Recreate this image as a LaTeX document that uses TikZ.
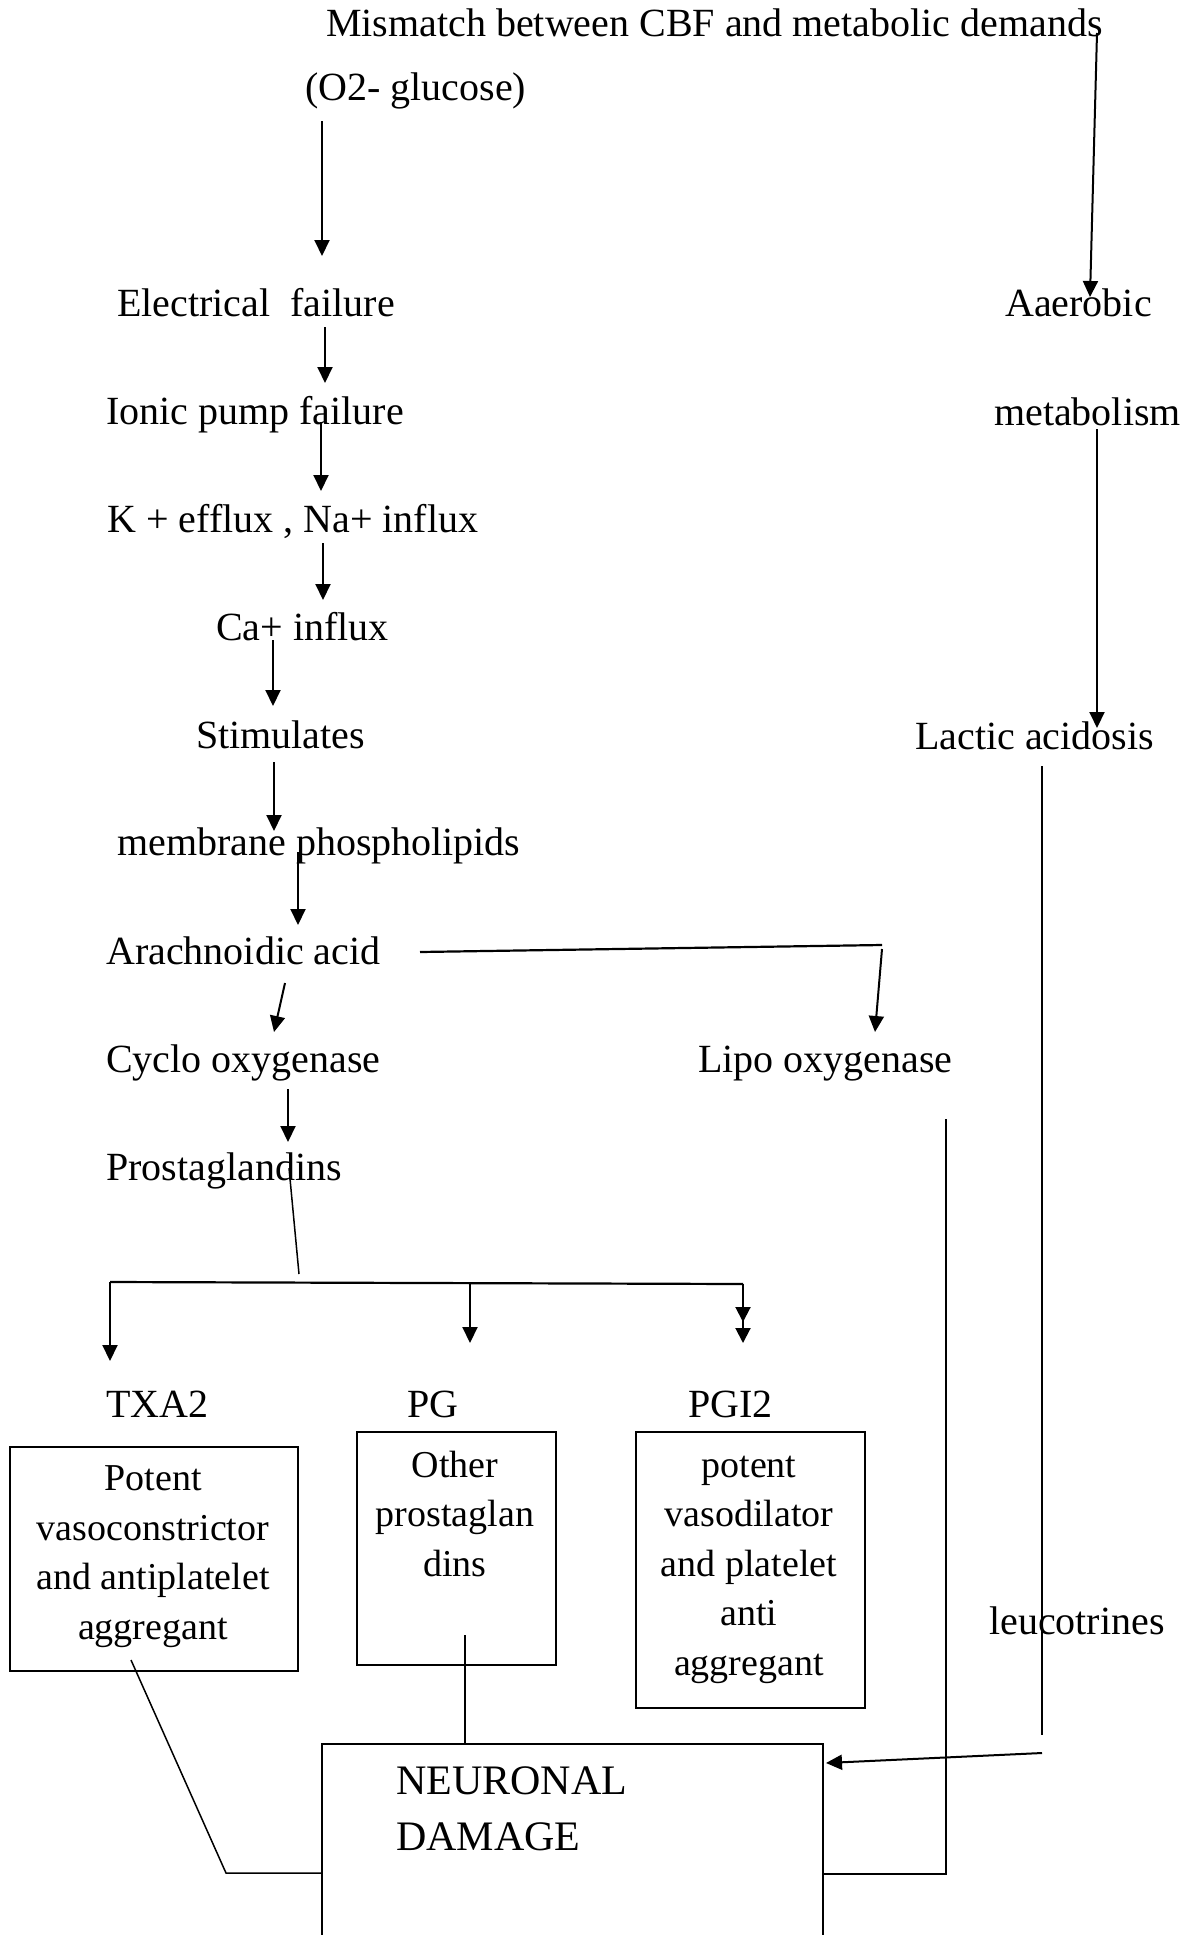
\documentclass[tikz,border=0pt]{standalone}
\usepackage{fontspec}
\setmainfont{Liberation Serif}
\usetikzlibrary{arrows.meta}
\begin{document}
\begin{tikzpicture}[x=1pt,y=-1pt,
  txt/.style={anchor=base west,inner sep=0pt,font=\fontsize{40}{48}\selectfont},
  boxtxt/.style={anchor=base,inner sep=0pt,align=center,font=\fontsize{38}{49.5}\selectfont},
  boxshape/.style={draw,line width=2pt,anchor=north west,inner sep=0pt},
  arr/.style={line width=2pt,-{Triangle[length=16pt,width=15pt]}},
  darr/.style={line width=2pt,-{Triangle[length=15pt,width=15pt,sep=6pt]Triangle[length=15pt,width=15pt]}},
  ln/.style={line width=1.5pt},
  lnthick/.style={line width=2.2pt}]
\useasboundingbox (0,0) rectangle (1189,1935);
\fill[white] (0,0) rectangle (1189,1935);
\clip (0,0) rectangle (1189,1935);

% texts
\node[txt] (mis) at (326,37) {Mismatch between CBF and metabolic demands};
\node[txt] (glu) at (305,100) {(O2- glucose)};
\node[txt] (elec) at (117,316) {Electrical\ \ failure};
\node[txt] (aer) at (1005,316) {Aaerobic};
\node[txt] (ion) at (106,424) {Ionic pump failure};
\node[txt] (met) at (994,425) {metabolism};
\node[txt] (kna) at (107,532) {K + efflux , Na+ influx};
\node[txt] (ca) at (216,640) {Ca+ influx};
\node[txt] (stim) at (196,748) {Stimulates};
\node[txt] (lac) at (915,749) {Lactic acidosis};
\node[txt] (mem) at (117,855) {membrane phospholipids};
\node[txt] (ara) at (106,964) {Arachnoidic acid};
\node[txt] (cyc) at (106,1072) {Cyclo oxygenase};
\node[txt] (lip) at (698,1072) {Lipo oxygenase};
\node[txt] (pro) at (106,1180) {Prostaglandins};
\node[txt] (txa) at (106,1417) {TXA2};
\node[txt] (pg) at (407,1417) {PG};
\node[txt] (pgi) at (688,1417) {PGI2};
\node[txt] (leu) at (989,1634) {leucotrines};

% boxes (text anchored at the baseline of the last line)
\node[boxshape,minimum width=288pt,minimum height=224pt] (b1) at (9,1446) {};
\node[boxtxt] (b1t) at (153,1639) {Potent\\vasoconstrictor\\and antiplatelet\\aggregant};
\node[boxshape,minimum width=199pt,minimum height=233pt] (b2) at (356,1431) {};
\node[boxtxt] (b2t) at (455,1576) {Other\\prostaglan\\dins};
\node[boxshape,minimum width=229pt,minimum height=276pt] (b3) at (635,1431) {};
\node[boxtxt] (b3t) at (749,1675) {potent\\vasodilator\\and platelet\\anti\\aggregant};
\node[anchor=north west,inner sep=0pt,minimum width=501pt,minimum height=230pt] (nd) at (322,1744) {};
\draw[line width=2pt] (nd.south west) -- (nd.north west) -- (nd.north east) -- (nd.south east);
\node[anchor=base west,inner sep=0pt,align=left,font=\fontsize{42}{56}\selectfont] (ndt) at (396,1850) {NEURONAL\\DAMAGE};

% coordinates
\coordinate (a1) at (322,121); \coordinate (a2) at (322,256);
\coordinate (b1s) at (1097,33); \coordinate (b1e) at (1090,297);
\coordinate (c1) at (325,327); \coordinate (c2) at (325,383);
\coordinate (d1) at (321,422); \coordinate (d2) at (321,491);
\coordinate (e1) at (323,543); \coordinate (e2) at (323,600);
\coordinate (f1) at (273,640); \coordinate (f2) at (273,706);
\coordinate (g1) at (274,762); \coordinate (g2) at (274,831);
\coordinate (h1) at (298,852); \coordinate (h2) at (298,925);
\coordinate (i1) at (285,983); \coordinate (i2) at (274,1032);
\coordinate (j1) at (420,952); \coordinate (j2) at (882,945);
\coordinate (j3) at (882,949); \coordinate (j4) at (875,1032);
\coordinate (k1) at (288,1089); \coordinate (k2) at (288,1142);
\coordinate (l1) at (289,1168); \coordinate (l2) at (299,1274);
\coordinate (lL) at (110,1282); \coordinate (lR) at (743,1284);
\coordinate (lM) at (470,1283);
\coordinate (lLe) at (110,1361); \coordinate (lMe) at (470,1343); \coordinate (lRe) at (743,1343);
\coordinate (m1) at (131,1660); \coordinate (m2) at (226,1873); \coordinate (m3) at (322,1873);
\coordinate (n1) at (465,1635);
\coordinate (o1) at (946,1119); \coordinate (o2) at (946,1874); \coordinate (o3) at (823,1874);
\coordinate (p1) at (1042,766); \coordinate (p2) at (1042,1735);
\coordinate (p3) at (1042,1753); \coordinate (p4) at (826,1763);
\coordinate (q1) at (1097,429); \coordinate (q2) at (1097,728);

% connectors
\draw[arr] (a1) -- (a2);
\draw[arr] (b1s) -- (b1e);
\draw[arr] (c1) -- (c2);
\draw[arr] (d1) -- (d2);
\draw[arr] (e1) -- (e2);
\draw[arr] (f1) -- (f2);
\draw[arr] (g1) -- (g2);
\draw[arr] (h1) -- (h2);
\draw[arr] (i1) -- (i2);
\draw[lnthick] (j1) -- (j2);
\draw[arr] (j3) -- (j4);
\draw[arr] (k1) -- (k2);
\draw[ln] (l1) -- (l2);
\draw[lnthick] (lL) -- (lR);
\draw[arr] (lL) -- (lLe);
\draw[arr] (lM) -- (lMe);
\draw[darr] (lR) -- (lRe);
\draw[ln] (m1) -- (m2) -- (m3);
\draw[ln] (n1) -- (nd.north -| n1);
\draw[ln] (o1) -- (o2) -- (o3);
\draw[ln] (p1) -- (p2);
\draw[arr] (p3) -- (p4);
\draw[arr] (q1) -- (q2);
\end{tikzpicture}
\end{document}
